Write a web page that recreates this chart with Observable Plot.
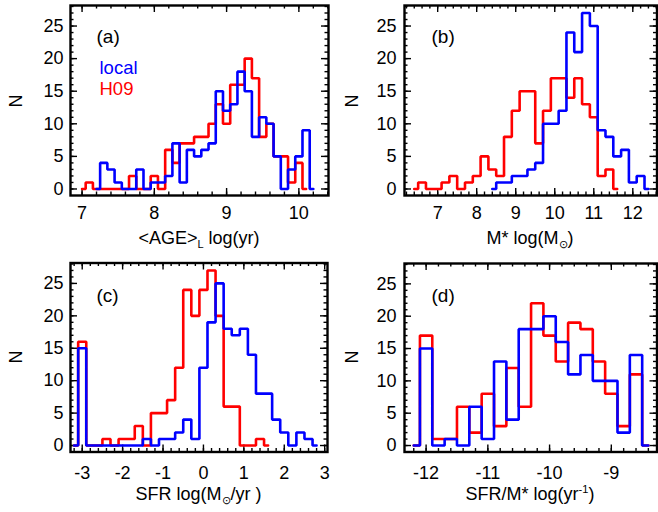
<!DOCTYPE html>
<html><head><meta charset="utf-8">
<script src="https://cdn.jsdelivr.net/npm/d3@7"></script>
<script src="https://cdn.jsdelivr.net/npm/@observablehq/plot@0.6"></script>
<style>
body{margin:0;background:#fff;}
#root{position:relative;width:658px;height:512px;font-family:"Liberation Sans",Arial,Helvetica,sans-serif;color:#000;overflow:hidden;}
.panel{position:absolute;}
.lab{position:absolute;white-space:nowrap;font-size:17px;line-height:17px;}
.c{transform:translateX(-50%);}
.rot{transform:translate(-50%,-50%) rotate(-90deg);}
sub{font-size:11px;vertical-align:-4px;line-height:0;}
sup{font-size:11px;vertical-align:7px;line-height:0;}
</style></head><body><div id="root"></div>
<script>
// ---- tick labels ----
const countTicks = [0, 5, 10, 15, 20, 25];
const ageTicks = [7, 8, 9, 10];
const massTicks = [7, 8, 9, 10, 11, 12];
const sfrTicks = [-3, -2, -1, 0, 1, 2, 3];
const ssfrTicks = [-12, -11, -10, -9];

// ---- (a) <AGE>_L : bin centres and counts ----
const ageRedX = [7.0,7.1,7.2,7.3,7.4,7.5,7.6,7.7,7.8,7.9,8.0,8.1,8.2,8.3,8.4,8.5,8.6,8.7,8.8,8.9,9.0,9.1,9.2,9.3,9.4,9.5,9.6,9.7,9.8,9.9,10.0,10.1];
const ageRedN = [0,1,0,0,0,0,0,2,0,0,2,0,6,4,7,7,8,8,10,13,10,16,16,20,17,8,10,5,5,1,4,0];
const ageBlueX = [7.2,7.3,7.4,7.5,7.6,7.7,7.8,7.9,8.0,8.1,8.2,8.3,8.4,8.5,8.6,8.7,8.8,8.9,9.0,9.1,9.2,9.3,9.4,9.5,9.6,9.7,9.8,9.9,10.0,10.1,10.2];
const ageBlueN = [0,4,3,1,0,0,3,0,1,1,2,7,1,6,5,6,7,15,12,13,18,15,8,11,10,5,0,3,5,9,0];

// ---- (b) M* ----
const massRedX = [6.4,6.6,6.8,7.0,7.2,7.4,7.6,7.8,8.0,8.2,8.4,8.6,8.8,9.0,9.2,9.4,9.6,9.8,10.0,10.2,10.4,10.6,10.8,11.0,11.2,11.4,11.6];
const massRedN = [0,1,0,0,1,2,0,1,2,5,3,2,8,12,15,15,7,12,17,17,14,17,13,11,2,3,0];
const massBlueX = [8.4,8.6,8.8,9.0,9.2,9.4,9.6,9.8,10.0,10.2,10.4,10.6,10.8,11.0,11.2,11.4,11.6,11.8,12.0,12.2,12.4];
const massBlueN = [0,1,1,2,2,3,4,10,10,12,24,21,27,25,9,8,5,6,1,2,0];

// ---- (c) SFR ----
const sfrRedX = [-3.2,-3.0,-2.8,-2.6,-2.4,-2.2,-2.0,-1.8,-1.6,-1.4,-1.2,-1.0,-0.8,-0.6,-0.4,-0.2,0.0,0.2,0.4,0.6,0.8,1.0,1.2,1.4,1.6];
const sfrRedN = [0,16,0,0,1,0,1,1,3,0,5,5,7,12,24,20,24,27,20,6,6,0,0,1,0];
const sfrBlueX = [-3.2,-3.0,-2.8,-2.6,-2.4,-2.2,-2.0,-1.8,-1.6,-1.4,-1.2,-1.0,-0.8,-0.6,-0.4,-0.2,0.0,0.2,0.4,0.6,0.8,1.0,1.2,1.4,1.6,1.8,2.0,2.2,2.4,2.6,2.8];
const sfrBlueN = [0,15,0,0,0,0,0,0,0,1,0,1,1,2,4,1,12,19,25,18,17,18,14,8,8,4,2,0,2,1,0];

// ---- (d) SFR/M* ----
const ssfrX = [-12.2,-12.0,-11.8,-11.6,-11.4,-11.2,-11.0,-10.8,-10.6,-10.4,-10.2,-10.0,-9.8,-9.6,-9.4,-9.2,-9.0,-8.8,-8.6,-8.4];
const ssfrRedN = [0,17,1,1,6,2,8,3,12,6,22,17,13,19,18,13,8,3,11,0];
const ssfrBlueN = [0,15,0,1,0,6,1,13,4,18,18,20,16,11,14,10,10,2,14,0];

const RED = "#ff0000", BLUE = "#0000ff";
const zip = (xs, ns) => xs.map((x, i) => ({x, n: ns[i]}));
const minorTicks = (dom, step) => d3.range(Math.ceil(dom[0] / step - 1e-9), Math.floor(dom[1] / step + 1e-9) + 1).map(k => +(k * step).toFixed(6));
const fmt = d => String(d); // plain hyphen-minus as in the original

const root = document.getElementById("root");

function panel(p) {
  const plotH = p.height - p.mT - p.mB;
  const plotW = p.width - p.mL - p.mR;
  const yDomain = [-1, 28.15];
  const xMinor = minorTicks(p.xDomain, p.xMinorStep).filter(v => v > p.xDomain[0] && v < p.xDomain[1]);
  const yMinor = minorTicks(yDomain, 1).filter(v => v > yDomain[0] && v < yDomain[1]);
  const majLen = 7, minLen = 3.5, tw = 1.4;
  const chart = Plot.plot({
    width: p.width, height: p.height,
    marginLeft: p.mL, marginRight: p.mR, marginTop: p.mT, marginBottom: p.mB,
    x: {domain: p.xDomain},
    y: {domain: yDomain},
    style: {fontFamily: '"Liberation Sans", Arial, Helvetica, sans-serif', fontSize: "18px", background: "transparent", overflow: "visible", color: "#000"},
    marks: [
      Plot.axisX(p.xTicks, {tickSize: 0, tickPadding: p.xPad, label: null, fontSize: 18, tickFormat: fmt}),
      Plot.axisY(countTicks, {tickSize: 0, tickPadding: p.yPad, label: null, fontSize: 18, tickFormat: fmt}),
      // inward ticks on all four sides
      Plot.tickX(p.xTicks, {x: d => d, insetTop: plotH - majLen, stroke: "#000", strokeWidth: tw}),
      Plot.tickX(p.xTicks, {x: d => d, insetBottom: plotH - majLen, stroke: "#000", strokeWidth: tw}),
      Plot.tickX(xMinor, {x: d => d, insetTop: plotH - minLen, stroke: "#000", strokeWidth: tw}),
      Plot.tickX(xMinor, {x: d => d, insetBottom: plotH - minLen, stroke: "#000", strokeWidth: tw}),
      Plot.tickY(countTicks, {y: d => d, insetRight: plotW - majLen, stroke: "#000", strokeWidth: tw}),
      Plot.tickY(countTicks, {y: d => d, insetLeft: plotW - majLen, stroke: "#000", strokeWidth: tw}),
      Plot.tickY(yMinor, {y: d => d, insetRight: plotW - minLen, stroke: "#000", strokeWidth: tw}),
      Plot.tickY(yMinor, {y: d => d, insetLeft: plotW - minLen, stroke: "#000", strokeWidth: tw}),
      Plot.line(p.red, {x: "x", y: "n", curve: "step", stroke: RED, strokeWidth: 2.6, strokeLinejoin: "miter"}),
      Plot.line(p.blue, {x: "x", y: "n", curve: "step", stroke: BLUE, strokeWidth: 2.6, strokeLinejoin: "miter"}),
      Plot.frame({stroke: "#000", strokeWidth: 2.4})
    ]
  });
  chart.classList.add("panel");
  chart.style.left = p.left + "px";
  chart.style.top = p.top + "px";
  root.appendChild(chart);
}

panel({left: 0, top: 0, width: 330, height: 256, mL: 70, mR: 2, mT: 5, mB: 61, xPad: 11, yPad: 7,
  xDomain: [6.84, 10.41], xTicks: ageTicks, xMinorStep: 0.2,
  red: zip(ageRedX, ageRedN), blue: zip(ageBlueX, ageBlueN)});
panel({left: 329, top: 0, width: 329, height: 256, mL: 75, mR: 1.5, mT: 5, mB: 61, xPad: 11, yPad: 8,
  xDomain: [6.15, 12.62], xTicks: massTicks, xMinorStep: 0.2,
  red: zip(massRedX, massRedN), blue: zip(massBlueX, massBlueN)});
panel({left: 0, top: 256, width: 330, height: 256, mL: 70, mR: 3, mT: 6.5, mB: 60.5, xPad: 14, yPad: 7,
  xDomain: [-3.29, 3.07], xTicks: sfrTicks, xMinorStep: 0.2,
  red: zip(sfrRedX, sfrRedN), blue: zip(sfrBlueX, sfrBlueN)});
panel({left: 329, top: 256, width: 329, height: 256, mL: 75, mR: 1.5, mT: 7, mB: 60.5, xPad: 14, yPad: 8,
  xDomain: [-12.35, -8.26], xTicks: ssfrTicks, xMinorStep: 0.2,
  red: zip(ssfrX, ssfrRedN), blue: zip(ssfrX, ssfrBlueN)});

// ---- text labels ----
function lab(html, x, y, cls, extra) {
  const d = document.createElement("div");
  d.className = "lab " + (cls || "");
  d.innerHTML = html;
  d.style.left = x + "px";
  d.style.top = y + "px";
  if (extra) Object.assign(d.style, extra);
  root.appendChild(d);
}
// y titles
lab("N", 15.5, 101, "rot", {fontSize: "18px"});
lab("N", 352, 101, "rot", {fontSize: "18px"});
lab("N", 15.5, 357, "rot", {fontSize: "18px"});
lab("N", 352, 357, "rot", {fontSize: "18px"});
// x titles
lab("&lt;AGE&gt;<sub>L</sub> log(yr)", 199, 229.5, "c", {fontSize: "18px"});
lab("M* log(M<sub>⊙</sub>)", 530, 229.5, "c", {fontSize: "18px"});
lab("SFR log(M<sub>⊙</sub>/yr )", 198.5, 485.5, "c", {fontSize: "18px"});
lab("SFR/M* log(yr<sup>-1</sup>)", 530, 485.5, "c", {fontSize: "18px"});
// panel tags
lab("(a)", 96.5, 28, "", {fontSize: "19px"});
lab("(b)", 431.5, 28, "", {fontSize: "19px"});
lab("(c)", 96.5, 287, "", {fontSize: "19px"});
lab("(d)", 431.5, 287, "", {fontSize: "19px"});
// legend
lab("local", 99.5, 58, "", {fontSize: "18.5px", lineHeight: "20.5px", color: BLUE});
lab("H09", 99.5, 79, "", {fontSize: "18.5px", lineHeight: "20.5px", color: RED});
</script>
</body></html>
